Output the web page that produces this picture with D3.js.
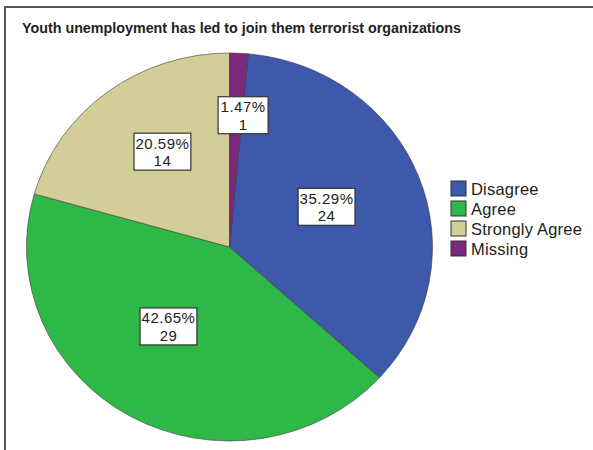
<!DOCTYPE html>
<html>
<head>
<meta charset="utf-8">
<script src="https://cdn.jsdelivr.net/npm/d3@7"></script>
<style>
  html, body { margin: 0; padding: 0; background: #fff; }
  svg { display: block; font-family: "Liberation Sans", Arial, sans-serif; }
</style>
</head>
<body>
<svg id="chart" width="593" height="450"></svg>
<script>
// Survey responses
const title = "Youth unemployment has led to join them terrorist organizations";
const categories = ["Disagree", "Agree", "Strongly Agree", "Missing"];
const counts = [24, 29, 14, 1];
const colors = ["#3E58AC", "#2EB848", "#D3CE97", "#7C287D"];

// Layout
const W = 593, H = 450;
const cx = 229.5, cy = 247, R = 203, squash = 194 / 203;
const labelRadius = [0.52, 0.51, 0.59, 0.68];   // fraction of R for each value box
const labelTurn = [-2, 7, 3, 3];                 // degrees of extra turn for each value box

const svg = d3.select("#chart");

// outer frame
svg.append("rect")
  .attr("x", 5).attr("y", 7).attr("width", W + 20).attr("height", H + 20)
  .attr("fill", "none").attr("stroke", "#555").attr("stroke-width", 2);

svg.append("text")
  .attr("x", 22).attr("y", 33)
  .attr("font-size", 14.3).attr("font-weight", "bold").attr("fill", "#222")
  .text(title);

const total = d3.sum(counts);
const offset = 2 * Math.PI * counts[3] / total;   // Missing sits just right of 12 o'clock
const pie = d3.pie().sort(null).value(d => d.count)
  .startAngle(offset).endAngle(offset + 2 * Math.PI);
const data = categories.map((c, i) => ({ cat: c, count: counts[i], color: colors[i], i }));
const arcs = pie(data);

const arc = d3.arc().innerRadius(0).outerRadius(R);

const pieG = svg.append("g")
  .attr("transform", `translate(${cx},${cy}) scale(1,${squash})`);

pieG.selectAll("path.slice")
  .data(arcs)
  .join("path")
  .attr("class", "slice")
  .attr("d", arc)
  .attr("fill", d => d.data.color)
  .attr("stroke", "#3a3a3a")
  .attr("stroke-width", 0.6)
  .attr("vector-effect", "non-scaling-stroke");

// value boxes: percentage over count
const fmt = d => (d.data.count / total * 100).toFixed(2) + "%";
const labels = svg.append("g");
arcs.forEach(d => {
  const a = (d.startAngle + d.endAngle) / 2 + labelTurn[d.data.i] * Math.PI / 180;
  const r = R * labelRadius[d.data.i];
  const x = cx + Math.sin(a) * r;
  const y = cy - Math.cos(a) * r * squash;
  const g = labels.append("g").attr("transform", `translate(${x},${y})`);
  const box = g.append("rect");
  const txt = g.append("g")
    .attr("text-anchor", "middle")
    .attr("font-size", 15).attr("letter-spacing", 0.5).attr("fill", "#222");
  txt.append("text").attr("x", 0).attr("y", -3.5).text(fmt(d));
  txt.append("text").attr("x", 0).attr("y", 14).text(d.data.count);
  const bb = txt.node().getBBox();
  const w = Math.max(bb.width + 3, 50), h = 37;
  box.attr("x", -w / 2).attr("y", -h / 2 - 0.5).attr("width", w).attr("height", h)
    .attr("fill", "#fff").attr("stroke", "#333").attr("stroke-width", 1.2);
});

// legend
const legend = svg.append("g").attr("transform", "translate(451,181)");
const items = legend.selectAll("g")
  .data(categories)
  .join("g")
  .attr("transform", (d, i) => `translate(0,${i * 20})`);
items.append("rect")
  .attr("width", 15).attr("height", 15)
  .attr("fill", (d, i) => colors[i])
  .attr("stroke", "#333").attr("stroke-width", 1);
items.append("text")
  .attr("x", 20).attr("y", 14)
  .attr("font-size", 16.5).attr("letter-spacing", 0.2).attr("fill", "#222")
  .text(d => d);
</script>
</body>
</html>
